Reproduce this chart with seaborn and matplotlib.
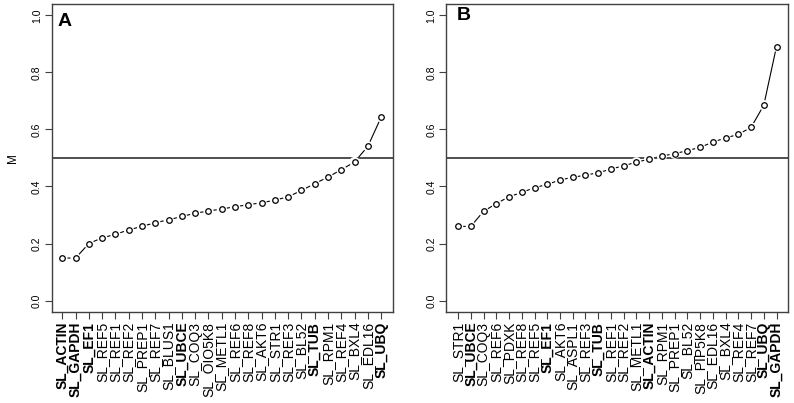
"""Gene expression stability (M values) for two reference gene sets."""
import matplotlib
matplotlib.use("Agg")
import matplotlib.pyplot as plt
import numpy as np
import seaborn as sns

# panel A
genes_a = ["SL_ACTIN", "SL_GAPDH", "SL_EF1", "SL_REF5", "SL_REF1", "SL_REF2",
           "SL_PREP1", "SL_REF7", "SL_BLUS1", "SL_UBCE", "SL_COQ3", "SL_OIO5K8",
           "SL_METL1", "SL_REF6", "SL_REF8", "SL_AKT6", "SL_STR1", "SL_REF3",
           "SL_BL52", "SL_TUB", "SL_RPM1", "SL_REF4", "SL_BXL4", "SL_EDL16",
           "SL_UBQ"]
m_a = [0.149, 0.149, 0.200, 0.220, 0.232, 0.248, 0.260, 0.273, 0.283, 0.295,
       0.306, 0.314, 0.321, 0.329, 0.336, 0.343, 0.352, 0.364, 0.386, 0.410,
       0.433, 0.459, 0.486, 0.541, 0.643]

# panel B
genes_b = ["SL_STR1", "SL_UBCE", "SL_COQ3", "SL_REF6", "SL_PDXK", "SL_REF8",
           "SL_REF5", "SL_EF1", "SL_AKT6", "SL_ASPL1", "SL_REF3", "SL_TUB",
           "SL_REF1", "SL_REF2", "SL_METL1", "SL_ACTIN", "SL_RPM1", "SL_PREP1",
           "SL_BL52", "SL_PIP5K8", "SL_EDL16", "SL_BXL4", "SL_REF4", "SL_REF7",
           "SL_UBQ", "SL_GAPDH"]
m_b = [0.260, 0.260, 0.313, 0.340, 0.364, 0.379, 0.396, 0.407, 0.423, 0.432,
       0.440, 0.448, 0.461, 0.473, 0.485, 0.496, 0.507, 0.515, 0.526, 0.537,
       0.556, 0.570, 0.583, 0.607, 0.685, 0.891]

bold_genes = ["SL_ACTIN", "SL_GAPDH", "SL_EF1", "SL_UBCE", "SL_TUB", "SL_UBQ"]
threshold = 0.5
y_ticks = [0.0, 0.2, 0.4, 0.6, 0.8, 1.0]

sns.set_theme(style="ticks")
plt.rcParams["font.family"] = ["Liberation Sans", "DejaVu Sans"]
plt.rcParams["text.color"] = "black"
plt.rcParams["axes.labelcolor"] = "black"
FRAME = "#404040"


def panel(ax, genes, values, letter, letter_xy, pad):
    x = np.arange(len(genes))
    sns.lineplot(x=x, y=values, color="black", lw=0.8, ax=ax)
    # white halo to mimic R's type="b" gaps around points
    sns.scatterplot(x=x, y=values, s=55, color="white", edgecolor="none",
                    ax=ax, zorder=3)
    sns.scatterplot(x=x, y=values, s=16, facecolor="white", edgecolor="black",
                    linewidth=0.9, ax=ax, zorder=4)
    ax.axhline(threshold, color=FRAME, lw=1.3, zorder=2)

    ax.set_xlim(-pad[0], len(genes) - 1 + pad[1])
    ax.set_ylim(-0.04, 1.04)
    ax.set_yticks(y_ticks)
    ax.set_yticklabels([f"{v:.1f}" for v in y_ticks], rotation=90,
                       va="center", fontsize=7.5)
    ax.set_xticks(x)
    ax.set_xticklabels(genes, rotation=90, fontsize=10)
    for lab in ax.get_xticklabels():
        if lab.get_text() in bold_genes:
            lab.set_fontweight("bold")
    ax.tick_params(axis="both", direction="out", length=5, width=0.8,
                   color=FRAME, labelcolor="black", pad=2)
    for sp in ax.spines.values():
        sp.set_visible(True)
        sp.set_color(FRAME)
        sp.set_linewidth(1.0)
    ax.set_xlabel("")
    ax.text(letter_xy[0], letter_xy[1], letter, transform=ax.transAxes,
            fontsize=14, fontweight="bold", ha="left", va="top")


fig = plt.figure(figsize=(7.94, 4.03), dpi=100)
ax_a = fig.add_axes([0.0651, 0.226, 0.430, 0.764])
ax_b = fig.add_axes([0.5617, 0.226, 0.4307, 0.764])

panel(ax_a, genes_a, m_a, "A", (0.018, 0.97), (0.8, 0.9))
panel(ax_b, genes_b, m_b, "B", (0.032, 0.99), (0.95, 0.9))
ax_a.set_ylabel("M", fontsize=8.5, labelpad=9)

fig.savefig("out.png", dpi=100)
